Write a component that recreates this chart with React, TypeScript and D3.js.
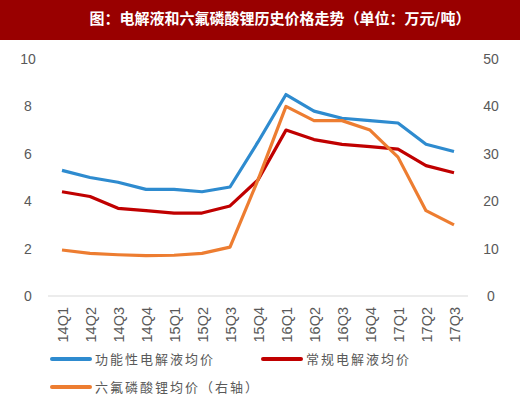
import React, { useEffect, useRef } from "react";
import * as d3 from "d3";

const quarters = ["14Q1", "14Q2", "14Q3", "14Q4", "15Q1", "15Q2", "15Q3", "15Q4", "16Q1", "16Q2", "16Q3", "16Q4", "17Q1", "17Q2", "17Q3"];
const functional = [5.3, 5.0, 4.8, 4.5, 4.5, 4.4, 4.6, 6.5, 8.5, 7.8, 7.5, 7.4, 7.3, 6.4, 6.1];
const conventional = [4.4, 4.2, 3.7, 3.6, 3.5, 3.5, 3.8, 4.9, 7.0, 6.6, 6.4, 6.3, 6.2, 5.5, 5.2];
const lipf6 = [9.7, 9.0, 8.7, 8.5, 8.6, 9.0, 10.3, 24.5, 40, 37, 37, 35, 29.3, 18, 15];
const leftTicks = [0, 2, 4, 6, 8, 10];
const rightTicks = [0, 10, 20, 30, 40, 50];

const title = "图：电解液和六氟磷酸锂历史价格走势（单位：万元/吨）";
const W = 520;
const H = 395;

export default function App() {
  const ref = useRef<SVGSVGElement>(null);

  useEffect(() => {
    const svg = d3.select(ref.current);
    svg.selectAll("*").remove();

    svg.append("rect").attr("x", 0).attr("y", 0).attr("width", W).attr("height", 40).attr("fill", "#990000");
    svg.append("text")
      .attr("x", 280).attr("y", 24)
      .attr("text-anchor", "middle")
      .attr("fill", "#fff")
      .style("font-family", "'Noto Sans CJK SC', sans-serif")
      .style("font-weight", "bold")
      .style("font-size", "15px")
      .text(title);

    const x = d3.scaleBand().domain(quarters).range([48, 468]);
    const yL = d3.scaleLinear().domain([0, 10]).range([296, 59]);
    const yR = d3.scaleLinear().domain([0, 50]).range([296, 59]);
    const cx = (d: string) => (x(d) as number) + x.bandwidth() / 2;

    svg.append("line")
      .attr("x1", 48).attr("x2", 468).attr("y1", 296).attr("y2", 296)
      .attr("stroke", "#d9d9d9").attr("stroke-width", 1);

    const font = "'Liberation Sans', Arial, sans-serif";
    svg.append("g").selectAll("text").data(leftTicks).enter().append("text")
      .attr("x", 28).attr("y", (d) => yL(d) + 5)
      .attr("text-anchor", "middle")
      .attr("fill", "#595959").style("font-family", font).style("font-size", "14px")
      .text((d) => d);

    svg.append("g").selectAll("text").data(rightTicks).enter().append("text")
      .attr("x", 491).attr("y", (d) => yR(d) + 5)
      .attr("text-anchor", "middle")
      .attr("fill", "#595959").style("font-family", font).style("font-size", "14px")
      .text((d) => d);

    svg.append("g").selectAll("text").data(quarters).enter().append("text")
      .attr("transform", (d) => `translate(${cx(d) + 5.5},307) rotate(-90)`)
      .attr("text-anchor", "end")
      .attr("fill", "#595959").style("font-family", font).style("font-size", "14.5px")
      .text((d) => d);

    const series = [
      { vals: functional, y: yL, color: "#2E8BCF" },
      { vals: conventional, y: yL, color: "#C00000" },
      { vals: lipf6, y: yR, color: "#ED7D31" },
    ];
    series.forEach((s) => {
      const line = d3.line<number>().x((_, i) => cx(quarters[i])).y((d) => s.y(d));
      svg.append("path")
        .attr("d", line(s.vals))
        .attr("fill", "none")
        .attr("stroke", s.color)
        .attr("stroke-width", 3.2)
        .attr("stroke-linejoin", "round");
    });

    const legend = [
      { label: "功能性电解液均价", color: "#2E8BCF", x: 52, y: 359 },
      { label: "常规电解液均价", color: "#C00000", x: 263, y: 359 },
      { label: "六氟磷酸锂均价（右轴）", color: "#ED7D31", x: 52, y: 387 },
    ];
    legend.forEach((l) => {
      svg.append("line")
        .attr("x1", l.x).attr("x2", l.x + 38).attr("y1", l.y).attr("y2", l.y)
        .attr("stroke", l.color).attr("stroke-width", 4).attr("stroke-linecap", "round");
      svg.append("text")
        .attr("x", l.x + 43).attr("y", l.y + 5)
        .attr("fill", "#595959")
        .style("font-family", "'Noto Sans CJK SC', sans-serif")
        .style("font-size", "13px")
        .style("letter-spacing", "2px")
        .text(l.label);
    });
  }, []);

  return (
    <svg ref={ref} width={W} height={H} style={{ position: "absolute", left: 0, top: 0, background: "#fff" }} />
  );
}
